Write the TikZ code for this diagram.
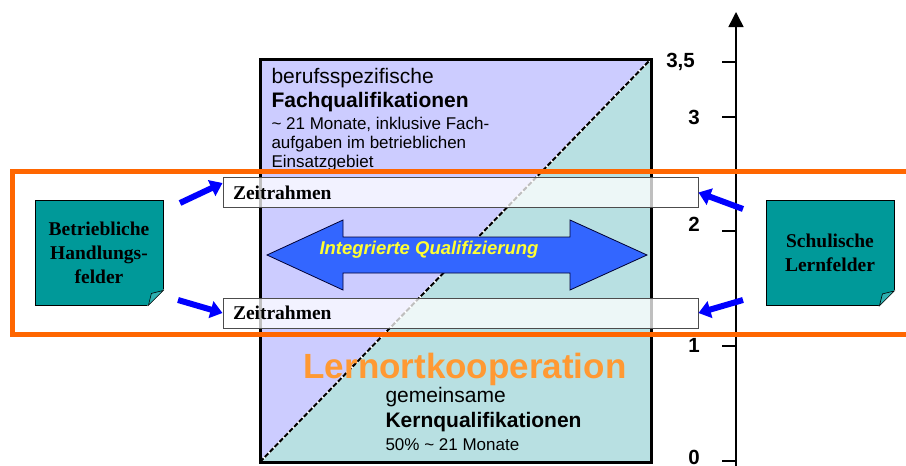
\documentclass[tikz,border=0pt]{standalone}
\usepackage{fontspec}
\setmainfont{Liberation Serif}
\setsansfont{Liberation Sans}
\usetikzlibrary{arrows.meta}

\definecolor{lila}{HTML}{CCCCFF}
\definecolor{hellteal}{HTML}{B8E0E2}
\definecolor{notizteal}{HTML}{009999}
\definecolor{knick}{HTML}{2FB0B0}
\definecolor{rahmenorange}{HTML}{FF6600}
\definecolor{lernorange}{HTML}{FF9933}
\definecolor{pfeilblau}{HTML}{3366FF}
\definecolor{gelb}{HTML}{FFFF33}

\tikzset{
	notiz/.style={draw, line width=0.8pt, fill=notizteal, minimum width=128pt, minimum height=105pt, align=center, font=\fontsize{19.5}{24}\selectfont\bfseries},
	zeit/.style={draw=black!70, line width=1pt, fill=white, fill opacity=0.75, text opacity=1, minimum height=30pt, text width=455pt, inner xsep=10pt, align=left, font=\fontsize{19.5}{24}\selectfont\bfseries},
	hinweis/.style={line width=6pt, draw=blue, -{Triangle[length=12pt,width=17pt]}},
	skala/.style={inner sep=0pt, font=\sffamily\bfseries\fontsize{20.5}{22}\selectfont},
	gross/.style={font=\sffamily\fontsize{21}{24}\selectfont},
	klein/.style={font=\sffamily\fontsize{17}{19}\selectfont}
}

\begin{document}
\begin{tikzpicture}[x=1pt,y=-1pt,>=stealth]

	\clip (0,0) rectangle (906,466);

	% Ecken vom Rahmen
	\coordinate (LO) at (260,59);
	\coordinate (RO) at (651,59);
	\coordinate (LU) at (260,462);
	\coordinate (RU) at (651,462);

	\fill[lila] (LU) -- (LO) -- (RO) -- cycle;
	\fill[hellteal] (LU) -- (RO) -- (RU) -- cycle;
	\draw[white, line width=2pt] (LU) -- (RO);
	\draw[black, line width=2pt, dash pattern=on 5pt off 2pt] (LU) -- (RO);
	\draw[line width=3pt] (LO) rectangle (RU);

	% Achse
	\coordinate (Achse0) at (736,466);
	\coordinate (AchseTop) at (736,12);
	\draw[line width=1.5pt, -{Triangle[length=15pt,width=15pt]}] (Achse0) -- (AchseTop);
	\foreach \y/\lab/\xl/\yl in {62/{3,5}/695/62, 117/3/700/117, 231/2/700/224, 346/1/700/345, 461/0/700/457} {
		\draw[line width=1.5pt] (722,\y) -- (736,\y);
		\node[skala, anchor=east] (Marke\y) at (\xl,\yl) {\lab};
	}

	\node[gross, anchor=base west] (Beruf) at (268,83) {berufsspezifische};
	\node[gross, anchor=base west] (Fach) at (268,107) {\bfseries Fachqualifikationen};
	\node[klein, anchor=base west] (Fach1) at (268,129) {\textasciitilde\ 21 Monate, inklusive Fach-};
	\node[klein, anchor=base west] (Fach2) at (268,148) {aufgaben im betrieblichen};
	\node[klein, anchor=base west] (Fach3) at (268,167) {Einsatzgebiet};

	\node[font=\sffamily\bfseries\fontsize{35}{40}\selectfont, text=lernorange, anchor=base] (Lernort) at (465,378) {Lernortkooperation};
	\node[gross, anchor=base west] (Gemein) at (382,402) {gemeinsame};
	\node[gross, anchor=base west] (Kern) at (382,427) {\bfseries Kernqualifikationen};
	\node[klein, anchor=base west] (Kern1) at (382,450) {50\% \textasciitilde\ 21 Monate};

	% Doppelpfeil
	\filldraw[fill=pfeilblau, draw=black!80!blue, line width=0.8pt] (267,255) -- (343,220) -- (343,237) -- (570,237) -- (570,220) -- (647,255) -- (570,290) -- (570,273) -- (343,273) -- (343,290) -- cycle;
	\node[font=\sffamily\bfseries\itshape\fontsize{18.5}{20}\selectfont, text=gelb] (IQ) at (429,250) {Integrierte Qualifizierung};

	\node[zeit] (ZeitOben) at (460.5,192.5) {Zeitrahmen};
	\node[zeit] (ZeitUnten) at (460.5,313) {Zeitrahmen};

	\node[notiz] (Betrieb) at (99,252.5) {Betriebliche\\Handlungs-\\felder};
	\node[notiz] (Schule) at (830,253) {Schulische\\Lernfelder};
	\foreach \n in {Betrieb,Schule} {
		\filldraw[white, line width=1pt] ([xshift=-15pt]\n.south east) -- ([xshift=1pt,yshift=-1pt]\n.south east) -- ([yshift=15pt]\n.south east) -- cycle;
		\filldraw[fill=knick, draw=black, line width=0.6pt] ([xshift=-15pt]\n.south east) -- ([yshift=15pt]\n.south east) -- ([xshift=-12pt,yshift=12pt]\n.south east) -- cycle;
	}

	\coordinate (BL1) at (180,203);
	\coordinate (BL2) at (178,300);
	\coordinate (SL1) at (743,209);
	\coordinate (SL2) at (743,300);
	\draw[hinweis] (BL1) -- ([yshift=-6pt]ZeitOben.north west);
	\draw[hinweis] (BL2) -- (ZeitUnten.west);
	\draw[hinweis] (SL1) -- (ZeitOben.east);
	\draw[hinweis] (SL2) -- (ZeitUnten.east);

	\draw[rahmenorange, line width=5pt] (12,171) rectangle (930,334);

\end{tikzpicture}
\end{document}
